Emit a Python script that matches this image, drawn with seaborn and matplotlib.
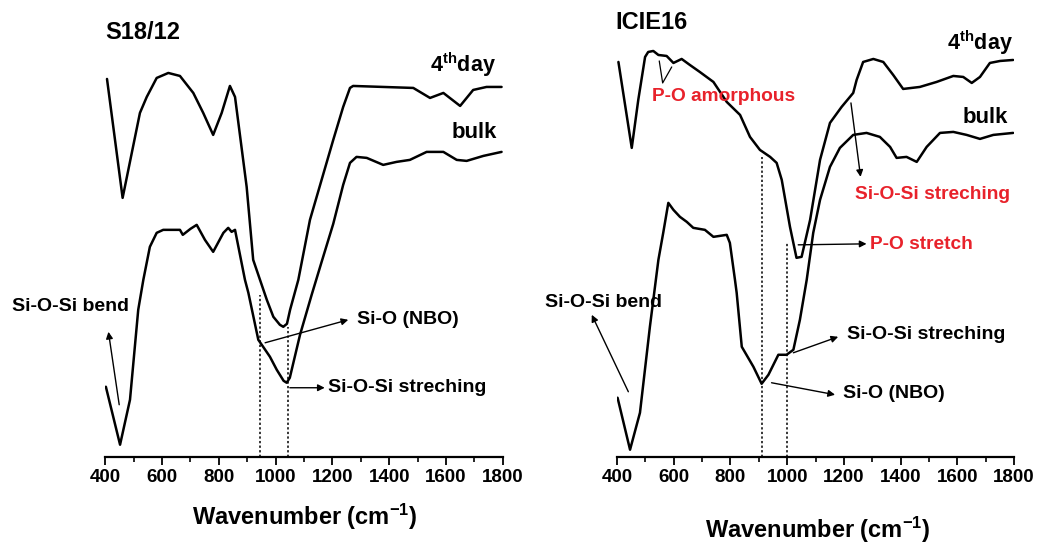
import matplotlib
matplotlib.use("Agg")
import matplotlib.pyplot as plt
import seaborn as sns
import pandas as pd
from matplotlib.ticker import MultipleLocator

# ---------------- data (wavenumber cm-1, signal in arbitrary units) ----------------
s18_day4_wn = [406, 461, 522, 546, 581, 622, 663, 710, 745, 780, 810, 839, 857, 898, 921,
               969, 992, 1015, 1027, 1040, 1051, 1080, 1121, 1203, 1238, 1262, 1273, 1379,
               1485, 1544, 1591, 1650, 1696, 1743, 1796]
s18_day4_y = [378, 259, 344, 360, 379, 384, 381, 364, 344, 322, 344, 371, 360, 270, 197,
              157, 140, 132, 130, 133, 147, 177, 237, 317, 350, 369, 371, 370,
              369, 359, 364, 351, 367, 370, 370]

s18_bulk_wn = [402, 452, 487, 516, 534, 557, 581, 604, 663, 673, 700, 722, 751, 780, 816,
               833, 845, 857, 892, 904, 939, 956, 980, 1004, 1028, 1039, 1050, 1086, 1127,
               1160, 1203, 1238, 1262, 1285, 1321, 1379, 1426, 1473, 1532, 1591, 1638,
               1673, 1732, 1796]
s18_bulk_y = [70, 12, 57, 147, 177, 210, 224, 227, 227, 222, 228, 232, 217, 205, 224,
              229, 225, 227, 177, 164, 117, 110, 100, 87, 76, 74, 79, 122, 162,
              193, 233, 272, 294, 300, 299, 292, 295, 297, 305, 305, 297,
              296, 301, 305]

icie_day4_wn = [405, 452, 475, 499, 510, 528, 546, 575, 599, 628, 657, 692, 740, 787, 834,
                869, 904, 940, 963, 981, 1010, 1033, 1051, 1081, 1116, 1151, 1192, 1233,
                1245, 1268, 1304, 1339, 1374, 1409, 1468, 1527, 1586, 1621, 1651, 1680,
                1715, 1751, 1797]
icie_day4_y = [395, 309, 357, 400, 405, 406, 402, 401, 394, 398, 392, 385, 375, 355, 342,
               320, 307, 300, 294, 277, 230, 199, 200, 237, 297, 334, 350, 364,
               377, 395, 398, 395, 382, 368, 370, 375, 381, 380, 374, 380,
               394, 396, 397]

icie_bulk_wn = [402, 446, 481, 516, 546, 563, 581, 599, 622, 646, 669, 710, 740, 787, 798,
                816, 822, 840, 881, 910, 934, 969, 998, 1022, 1045, 1069, 1092, 1116, 1151,
                1186, 1233, 1280, 1327, 1363, 1386, 1421, 1457, 1492, 1539, 1586, 1633,
                1680, 1727, 1797]
icie_bulk_y = [59, 7, 44, 130, 197, 224, 254, 247, 240, 235, 229, 227, 220, 222, 214,
               177, 164, 110, 90, 73, 82, 102, 102, 107, 137, 177, 224, 257, 290,
               309, 322, 324, 320, 310, 299, 300, 295, 310, 324, 325, 322,
               318, 322, 324]

# marker (dotted) lines: wavenumber and top height
s18_vlines_x = [945, 1045]
s18_vlines_top = [162, 130]
icie_vlines_x = [910, 1001]
icie_vlines_top = [300, 214]

tick_values = [400, 600, 800, 1000, 1200, 1400, 1600, 1800]
tick_labels = [str(v) for v in tick_values]

RED = "#e8222b"

sns.set_style("white")
plt.rcParams["font.family"] = ["Liberation Sans", "DejaVu Sans"]
plt.rcParams["font.weight"] = "bold"
plt.rcParams["text.color"] = "black"
plt.rcParams["axes.labelcolor"] = "black"
plt.rcParams["xtick.color"] = "black"
plt.rcParams["mathtext.fontset"] = "custom"
plt.rcParams["mathtext.rm"] = "Liberation Sans:bold"
plt.rcParams["mathtext.bf"] = "Liberation Sans:bold"
plt.rcParams["mathtext.it"] = "Liberation Sans:bold"

fig = plt.figure(figsize=(10.38, 5.44), dpi=100)
axL = fig.add_axes([105.3 / 1038, 87.3 / 544, 397.4 / 1038, 456.7 / 544])
axR = fig.add_axes([617 / 1038, 87.3 / 544, 397 / 1038, 456.7 / 544])


def draw(ax, wn4, y4, wnb, yb):
    df = pd.concat([
        pd.DataFrame({"wn": wn4, "sig": y4, "sample": "4th day"}),
        pd.DataFrame({"wn": wnb, "sig": yb, "sample": "bulk"}),
    ])
    sns.lineplot(data=df, x="wn", y="sig", hue="sample", palette=["black", "black"],
                 estimator=None, legend=False, lw=1.8, ax=ax)
    ax.set_xlim(400, 1800)
    ax.set_ylim(0, 457)
    for s in ["left", "top", "right"]:
        ax.spines[s].set_visible(False)
    ax.spines["bottom"].set_linewidth(1.6)
    ax.spines["bottom"].set_color("black")
    ax.set_yticks([])
    ax.set_xticks(tick_values)
    ax.set_xticklabels(tick_labels, fontsize=13.5, fontweight="bold", color="black")
    ax.xaxis.set_minor_locator(MultipleLocator(100))
    ax.tick_params(axis="x", which="major", direction="out", length=6, width=1.3,
                   bottom=True, pad=3, colors="black")
    ax.tick_params(axis="x", which="minor", direction="out", length=3.5, width=1.2,
                   bottom=True, colors="black")
    ax.set_xlabel("")
    ax.set_ylabel("")
    ax.patch.set_alpha(0)


draw(axL, s18_day4_wn, s18_day4_y, s18_bulk_wn, s18_bulk_y)
draw(axR, icie_day4_wn, icie_day4_y, icie_bulk_wn, icie_bulk_y)

for ax, xs, tops in [(axL, s18_vlines_x, s18_vlines_top), (axR, icie_vlines_x, icie_vlines_top)]:
    ax.vlines(xs, 0, tops, colors="black", linestyles=(0, (1.5, 1.5)), lw=1.1)

arrow = dict(arrowstyle="-|>", lw=1.0, color="black", mutation_scale=10,
             shrinkA=0, shrinkB=0)
fs = 14
rfs = 13.8

# ---- left panel text ----
axL.text(399, 424, "S18/12", fontsize=17, fontweight="bold", va="center", ha="left")
axL.text(1775, 392, "4$^{\\mathrm{th}}$day", fontsize=15.5, fontweight="bold", ha="right", va="center")
axL.text(1780, 324, "bulk", fontsize=16, fontweight="bold", ha="right", va="center")
axL.text(71, 150, "Si-O-Si bend", fontsize=fs, ha="left", va="center", clip_on=False)
axL.annotate("", xy=(411, 125), xytext=(449, 52), arrowprops=arrow)
axL.text(1285, 137, "Si-O (NBO)", fontsize=fs, ha="left", va="center")
axL.annotate("", xy=(1256, 137), xytext=(963, 114), arrowprops=arrow)
axL.text(1184, 69, "Si-O-Si streching", fontsize=fs, ha="left", va="center")
axL.annotate("", xy=(1173, 69), xytext=(1050, 69), arrowprops=arrow)

# ---- right panel text ----
axR.text(393, 434, "ICIE16", fontsize=17, fontweight="bold", va="center", ha="left")
axR.text(1797, 414, "4$^{\\mathrm{th}}$day", fontsize=15.5, fontweight="bold", ha="right", va="center")
axR.text(1780, 339, "bulk", fontsize=16, fontweight="bold", ha="right", va="center")
axR.text(522, 360, "P-O amorphous", fontsize=rfs, color=RED, ha="left", va="center")
axR.plot([549, 561, 593], [396, 374, 390], color="black", lw=0.9)
axR.text(1239, 262, "Si-O-Si streching", fontsize=rfs, color=RED, ha="left", va="center",
         clip_on=False)
axR.annotate("", xy=(1259, 280), xytext=(1225, 354), arrowprops=arrow)
axR.text(1292, 212, "P-O stretch", fontsize=rfs, color=RED, ha="left", va="center")
axR.annotate("", xy=(1280, 213), xytext=(1039, 212), arrowprops=arrow)
axR.text(146, 154, "Si-O-Si bend", fontsize=fs, ha="left", va="center", clip_on=False)
axR.annotate("", xy=(311, 142), xytext=(440, 65), arrowprops=arrow, annotation_clip=False)
axR.text(1210, 122, "Si-O-Si streching", fontsize=fs, ha="left", va="center")
axR.annotate("", xy=(1180, 120), xytext=(1022, 104), arrowprops=arrow)
axR.text(1198, 63, "Si-O (NBO)", fontsize=fs, ha="left", va="center")
axR.annotate("", xy=(1169, 62), xytext=(945, 74), arrowprops=arrow)

# ---- x labels ----
fig.text(305 / 1038, 1 - 525 / 544, "Wavenumber (cm$^{-1}$)", fontsize=17,
         fontweight="bold", ha="center", va="baseline")
fig.text(818 / 1038, 1 - 538 / 544, "Wavenumber (cm$^{-1}$)", fontsize=17,
         fontweight="bold", ha="center", va="baseline")

fig.savefig("out.png", dpi=100, facecolor="white")
